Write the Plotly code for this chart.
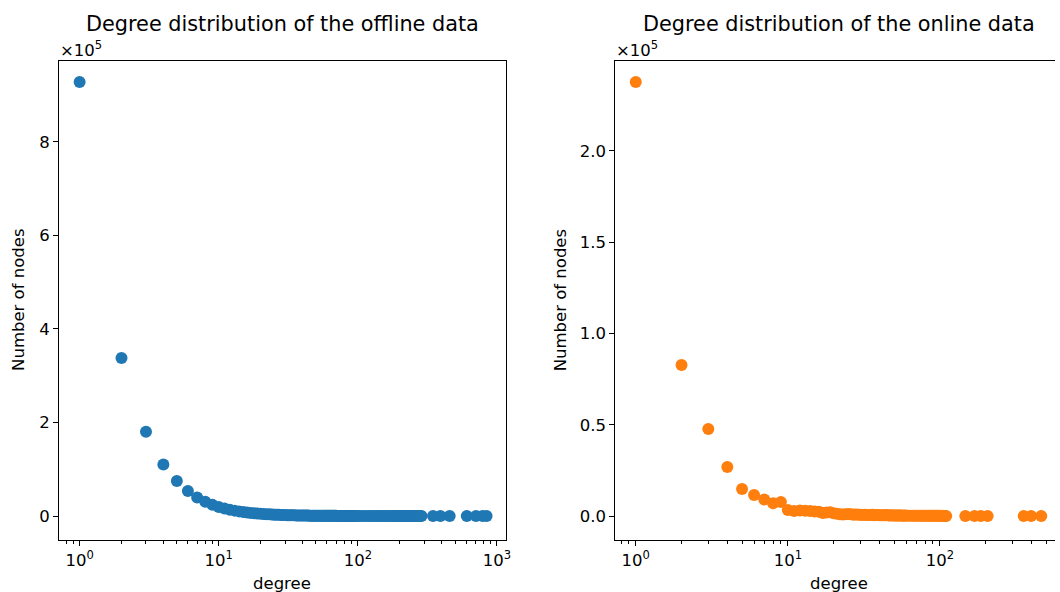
import plotly.graph_objects as go

# ---------------- data ----------------
offline_degree = list(range(1, 101)) + list(range(105, 281, 5)) + [287, 347, 392, 457, 607, 707, 788, 842]
offline_count = [
    928000, 338000, 180000, 110000, 75000, 53500, 39500, 30500, 24000, 19500,
    16000, 13500, 11500, 9900, 8600, 7500, 6600, 5900, 5200, 4700,
    4250, 3850, 3500, 3200, 2920, 2680, 2460, 2270, 2100, 1950,
    1810, 1690, 1580, 1480, 1390, 1300, 1225, 1155, 1090, 1030,
    975, 925, 878, 834, 793, 755, 720, 686, 655, 626,
    599, 573, 549, 526, 505, 485, 466, 448, 431, 415,
    400, 386, 372, 359, 347, 335, 324, 313, 303, 293,
    284, 275, 267, 259, 251, 244, 237, 230, 224, 218,
    212, 206, 201, 196, 191, 186, 181, 177, 173, 169,
    165, 161, 157, 154, 150, 147, 144, 141, 138, 135,
    122, 111, 101, 93, 85, 78, 72, 67, 62, 58, 54, 50, 47, 44, 41, 39, 37, 35,
    33, 31, 29, 28, 26, 25, 24, 23, 22, 21, 20, 19, 18, 17, 17, 16, 15, 15,
    8, 5, 4, 3, 2, 2, 1, 1,
]

online_degree = list(range(1, 61)) + list(range(62, 111, 2)) + [147, 169, 186, 206, 356, 398, 464]
online_count = [
    237800, 82700, 47700, 26800, 14800, 11500, 9000, 7000, 7700, 3300,
    2800, 3000, 2900, 2700, 2500, 2300, 1700, 1900, 2000, 1500,
    1200, 900, 800, 1000, 1100, 900, 700, 800, 650, 700,
    600, 750, 550, 600, 500, 650, 450, 500, 550, 400,
    450, 380, 420, 350, 500, 330, 300, 350, 280, 320,
    260, 300, 240, 280, 220, 250, 200, 230, 190, 210,
    180, 200, 160, 170, 150, 160, 140, 130, 150, 120, 110, 130, 100,
    110, 90, 100, 80, 90, 70, 80, 60, 70, 50, 60, 40,
    20, 15, 12, 10, 5, 4, 3,
]

titles = ["Degree distribution of the offline data", "Degree distribution of the online data"]
x_tick_vals = [1, 10, 100, 1000]
x_tick_text = ["10<sup>0</sup>", "10<sup>1</sup>", "10<sup>2</sup>", "10<sup>3</sup>"]
x_minor_vals = [m * d for d in (0.1, 1, 10, 100, 1000) for m in range(2, 10)]
left_y_vals = [0, 200000, 400000, 600000, 800000]
left_y_text = ["0", "2", "4", "6", "8"]
right_y_vals = [0, 50000, 100000, 150000, 200000]
right_y_text = ["0.0", "0.5", "1.0", "1.5", "2.0"]

BLUE = "#1f77b4"
ORANGE = "#ff7f0e"
FONT = "DejaVu Sans"
W, H = 1060, 592


def px(x):
    return x / W


def py(y):
    return 1 - y / H


fig = go.Figure()
fig.add_trace(go.Scatter(x=offline_degree, y=offline_count, mode="markers",
                         marker=dict(color=BLUE, size=12, line=dict(width=0)),
                         xaxis="x", yaxis="y", showlegend=False))
fig.add_trace(go.Scatter(x=online_degree, y=online_count, mode="markers",
                         marker=dict(color=ORANGE, size=12, line=dict(width=0)),
                         xaxis="x2", yaxis="y2", showlegend=False))

ydom = [py(540), py(61)]
TICKF = dict(family=FONT, size=16.5, color="black")
common_x = dict(type="log", showgrid=False, zeroline=False, showline=True, linecolor="black",
                linewidth=1.1, ticks="outside", ticklen=5, tickwidth=1, tickcolor="black",
                tickvals=x_tick_vals, ticktext=x_tick_text, tickfont=TICKF,
                minor=dict(tickvals=x_minor_vals, ticks="outside", ticklen=3, tickwidth=0.8,
                           tickcolor="black", showgrid=False))
common_y = dict(showgrid=False, zeroline=False, showline=True, linecolor="black",
                linewidth=1.1, ticks="outside", ticklen=5, tickwidth=1, tickcolor="black",
                tickfont=TICKF)

fig.update_layout(
    width=W, height=H,
    margin=dict(l=0, r=0, t=0, b=0),
    paper_bgcolor="white", plot_bgcolor="white",
    font=dict(family=FONT, color="black"),
    xaxis=dict(domain=[px(59.3), px(508.7)], range=[-0.148, 3.067], mirror=True, anchor="y", **common_x),
    yaxis=dict(domain=ydom, range=[-51300, 973000], mirror=True, anchor="x",
               tickvals=left_y_vals, ticktext=left_y_text, **common_y),
    xaxis2=dict(domain=[px(618.3), 1.0], range=[-0.134, 2.757], mirror=True, anchor="y2", **common_x),
    yaxis2=dict(domain=ydom, range=[-13150, 249300], mirror=False, anchor="x2",
                tickvals=right_y_vals, ticktext=right_y_text, **common_y),
)

ann = []
for cx, t in ((283.5, titles[0]), (842.5, titles[1])):
    ann.append(dict(text=t, x=px(cx), y=py(24), xref="paper", yref="paper",
                    xanchor="center", yanchor="middle", showarrow=False,
                    font=dict(family=FONT, size=20.8, color="black")))
    ann.append(dict(text="degree", x=px(cx), y=py(583), xref="paper", yref="paper",
                    xanchor="center", yanchor="middle", showarrow=False,
                    font=dict(family=FONT, size=16.5, color="black")))
for lx in (58, 617):
    ann.append(dict(text="×10<sup>5</sup>", x=px(lx), y=py(49), xref="paper", yref="paper",
                    xanchor="left", yanchor="middle", showarrow=False,
                    font=dict(family=FONT, size=16.5, color="black")))
for yx in (18, 563):
    ann.append(dict(text="Number of nodes", x=px(yx), y=py(300), xref="paper", yref="paper",
                    xanchor="center", yanchor="middle", textangle=-90, showarrow=False,
                    font=dict(family=FONT, size=16.5, color="black")))
fig.update_layout(annotations=ann)

fig.write_html(
    "out.html",
    config={"displayModeBar": False},
    post_script="document.body.style.margin='0';document.body.style.overflow='hidden';",
)
